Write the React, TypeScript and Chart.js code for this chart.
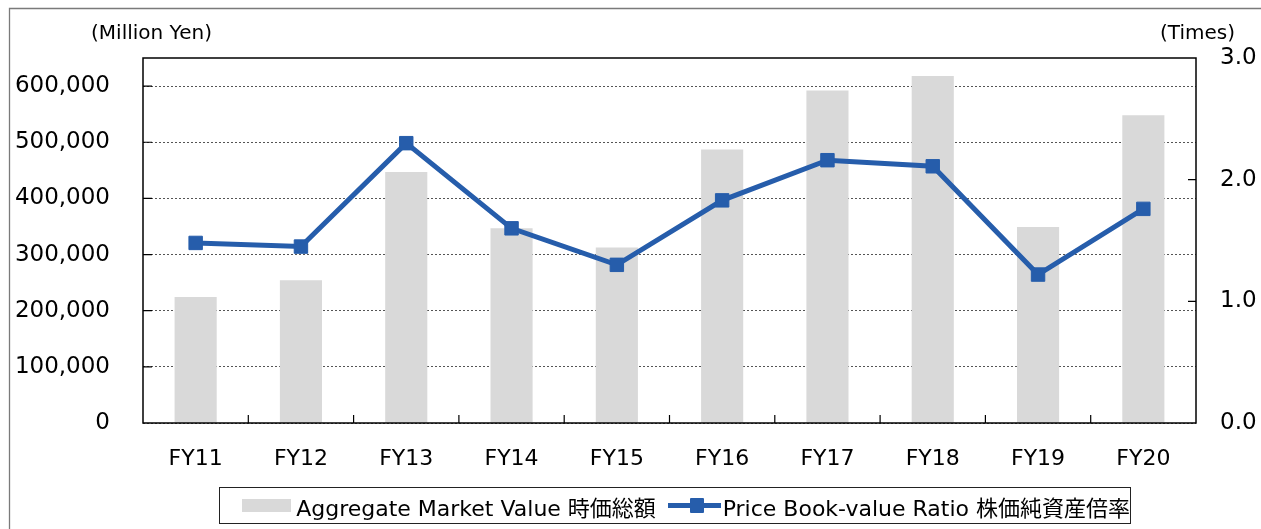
import React, { useEffect, useRef } from "react";
import { Chart, registerables } from "chart.js";

Chart.register(...registerables);

const categories = ["FY11", "FY12", "FY13", "FY14", "FY15", "FY16", "FY17", "FY18", "FY19", "FY20"];
const marketValue = [224500, 254000, 447000, 347000, 312500, 487000, 592000, 618000, 349000, 548000];
const pbrValues = [1.48, 1.45, 2.3, 1.6, 1.3, 1.83, 2.16, 2.11, 1.22, 1.76];
const leftTickValues = [0, 100000, 200000, 300000, 400000, 500000, 600000];
const rightTickValues = [0, 1, 2, 3];
const barLabel = "Aggregate Market Value 時価総額";
const lineLabel = "Price Book-value Ratio 株価純資産倍率";
const leftUnit = "(Million Yen)";
const rightUnit = "(Times)";

const FONT = '"DejaVu Sans", "Noto Sans CJK JP", sans-serif';
const BAR_COLOR = "#d9d9d9";
const LINE_COLOR = "#265dab";
const W = 1261;
const H = 529;

const decor = {
  id: "decor",
  afterDraw(chart: any) {
    const { ctx, chartArea, scales } = chart;
    const { left, right, top, bottom } = chartArea;
    ctx.save();
    // outer border
    ctx.strokeStyle = "#7a7a7a";
    ctx.lineWidth = 1.3;
    ctx.beginPath();
    ctx.moveTo(9.5, H);
    ctx.lineTo(9.5, 8.5);
    ctx.lineTo(W, 8.5);
    ctx.stroke();
    // plot frame
    ctx.strokeStyle = "#000";
    ctx.lineWidth = 1.5;
    ctx.strokeRect(left, top, right - left, bottom - top);
    // inside ticks
    ctx.lineWidth = 1.2;
    ctx.beginPath();
    const xs = scales.x;
    for (let i = 1; i < categories.length; i++) {
      const xb = (xs.getPixelForTick(i - 1) + xs.getPixelForTick(i)) / 2;
      ctx.moveTo(xb, bottom);
      ctx.lineTo(xb, bottom - 8);
    }
    const yl = scales.y;
    leftTickValues.forEach((v) => {
      if (v > 0 && v < yl.max) {
        const py = yl.getPixelForValue(v);
        ctx.moveTo(left, py);
        ctx.lineTo(left + 9, py);
      }
    });
    const yr = scales.y1;
    rightTickValues.forEach((v) => {
      if (v > 0 && v < yr.max) {
        const py = yr.getPixelForValue(v);
        ctx.moveTo(right - 8, py);
        ctx.lineTo(right, py);
      }
    });
    ctx.stroke();
    // unit labels
    ctx.fillStyle = "#000";
    ctx.font = `20px ${FONT}`;
    ctx.textAlign = "center";
    ctx.textBaseline = "middle";
    ctx.fillText(leftUnit, 151.5, 34);
    ctx.fillText(rightUnit, 1197.5, 34);
    ctx.restore();
  },
};

export default function App() {
  const ref = useRef<HTMLCanvasElement>(null);

  useEffect(() => {
    if (!ref.current) return;
    const chart = new Chart(ref.current, {
      type: "bar",
      data: {
        labels: categories,
        datasets: [
          {
            type: "line",
            label: lineLabel,
            data: pbrValues,
            yAxisID: "y1",
            borderColor: LINE_COLOR,
            backgroundColor: LINE_COLOR,
            borderWidth: 5,
            tension: 0,
            pointStyle: "rect",
            pointRadius: 9.5,
            pointBorderWidth: 1,
            pointBackgroundColor: LINE_COLOR,
            pointBorderColor: LINE_COLOR,
            order: 0,
          } as any,
          {
            type: "bar",
            label: barLabel,
            data: marketValue,
            yAxisID: "y",
            backgroundColor: BAR_COLOR,
            borderWidth: 0,
            categoryPercentage: 1,
            barPercentage: 0.4,
            order: 1,
          } as any,
        ],
      },
      options: {
        responsive: false,
        animation: false,
        layout: { padding: { left: 0, right: 0, top: 58, bottom: 0 } },
        plugins: { legend: { display: false }, tooltip: { enabled: false } },
        scales: {
          x: {
            type: "category",
            offset: true,
            grid: { display: false, drawTicks: false },
            border: { display: false },
            ticks: { color: "#000", font: { family: FONT, size: 22 }, padding: 23, maxRotation: 0 },
            afterFit: (s: any) => {
              s.height = 106;
            },
          },
          y: {
            position: "left",
            min: 0,
            max: 650000,
            grid: { color: "#555", lineWidth: 1, drawTicks: false },
            border: { display: false, dash: [2, 2] },
            ticks: {
              color: "#000",
              font: { family: FONT, size: 23 },
              padding: 33,
              autoSkip: false,
              callback: (v: any) => Number(v).toLocaleString("en-US"),
            },
            afterBuildTicks: (s: any) => {
              s.ticks = leftTickValues.map((v) => ({ value: v }));
            },
            afterFit: (s: any) => {
              s.width = 143;
            },
          },
          y1: {
            position: "right",
            min: 0,
            max: 3,
            grid: { display: false, drawTicks: false },
            border: { display: false },
            ticks: {
              color: "#000",
              font: { family: FONT, size: 23 },
              padding: 24,
              autoSkip: false,
              callback: (v: any) => Number(v).toFixed(1),
            },
            afterBuildTicks: (s: any) => {
              s.ticks = rightTickValues.map((v) => ({ value: v }));
            },
            afterFit: (s: any) => {
              s.width = 65;
            },
          },
        },
      },
      plugins: [decor],
    });
    return () => chart.destroy();
  }, []);

  return (
    <div style={{ position: "fixed", left: 0, top: 0, width: W, height: H, background: "#fff" }}>
      <canvas ref={ref} width={W} height={H} style={{ display: "block", width: W, height: H }} />
      <div
        style={{
          position: "absolute",
          left: 219,
          top: 487,
          width: 912,
          height: 37,
          boxSizing: "border-box",
          border: "1px solid #222",
          display: "flex",
          alignItems: "center",
          paddingLeft: 22,
          fontFamily: FONT,
          fontSize: 22,
          color: "#000",
          whiteSpace: "nowrap",
        }}
      >
        <span style={{ display: "inline-block", width: 54, height: 13, background: BAR_COLOR, marginRight: 5 }} />
        <span>{barLabel}</span>
        <span
          style={{
            position: "relative",
            display: "inline-block",
            width: 58,
            height: 15,
            marginLeft: 12,
            marginRight: 2,
          }}
        >
          <span style={{ position: "absolute", left: 0, right: 0, top: 5, height: 5, background: LINE_COLOR }} />
          <span
            style={{ position: "absolute", left: 22, top: 0, width: 14, height: 15, background: LINE_COLOR, borderRadius: 1 }}
          />
        </span>
        <span>{lineLabel}</span>
      </div>
    </div>
  );
}
